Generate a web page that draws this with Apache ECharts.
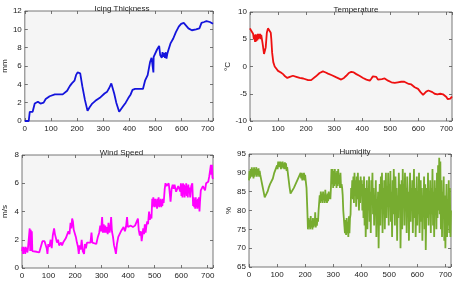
<!DOCTYPE html>
<html>
<head>
<meta charset="utf-8">
<script src="https://cdn.jsdelivr.net/npm/echarts@6/dist/echarts.min.js"></script>
<style>
html,body{margin:0;padding:0;background:#fff;}
#main{width:457px;height:288px;}
</style>
</head>
<body>
<div id="main"></div>
<script>
// panel titles and y labels
var titles = ['Icing Thickness', 'Temperature', 'Wind Speed', 'Humidity'];
var yNames = ['mm', '\u00b0C', 'm/s', '%'];
var xTicks = [0, 100, 200, 300, 400, 500, 600, 700];

// [time, value] pairs
var icing = [[0,0],[15,0],[19,1],[30,1],[34,1.1],[38,1.9],[42,2],[50,2.1],[56,2.1],[60,1.9],[66,1.9],[72,2],[80,2.4],[86,2.6],[95,2.7],[102,2.8],[115,2.9],[130,2.9],[145,2.9],[152,2.8],[162,3.3],[172,3.8],[180,4.1],[190,4.4],[196,5],[202,5.3],[208,5.5],[212,5.2],[220,3.8],[230,2.3],[240,1.1],[248,1.5],[258,1.9],[270,2.2],[290,2.6],[305,3],[315,3.2],[323,3.6],[331,4.1],[336,3.9],[342,3],[350,2],[361,1],[368,1],[376,1.6],[386,2],[396,2.5],[405,2.9],[412,3.4],[422,3.5],[440,3.5],[452,3.5],[460,4.4],[470,5],[479,6.4],[485,6.9],[490,7],[492,5.3],[493,7],[498,7.2],[506,7.8],[514,8.2],[518,7.2],[521,7.4],[524,6.9],[527,7.5],[530,7],[533,7.4],[536,6.9],[539,7.5],[542,6.8],[545,7.3],[548,7.6],[558,8.5],[568,9],[578,9.7],[589,10.3],[598,10.6],[608,10.7],[614,10.6],[626,10.1],[639,9.9],[655,10],[668,10.1],[676,10.7],[686,10.8],[695,10.9],[708,10.8],[720,10.6]];

var temperature = [[0,7],[5,6.5],[11,6],[14,5],[16,5.8],[18,4.5],[20,5.9],[22,4.6],[24,5.8],[26,4.8],[28,6],[30,5],[32,6],[34,5.2],[36,6],[38,5],[40,5.8],[45,4.2],[50,2.3],[53,2.2],[56,3.5],[60,6.2],[64,7],[70,6.8],[74,6.2],[76,5],[79,2.5],[83,0.8],[88,0],[100,-0.8],[110,-1.1],[118,-1.4],[125,-1.8],[133,-2.1],[142,-1.9],[153,-1.7],[165,-1.9],[177,-2.1],[190,-2.2],[207,-2.5],[218,-2.5],[225,-2.3],[235,-1.8],[248,-1.2],[260,-0.9],[270,-1.1],[278,-1.3],[292,-1.6],[308,-2],[325,-2.4],[335,-2.1],[343,-1.7],[352,-1.2],[361,-1],[370,-1.1],[379,-1.4],[390,-1.7],[403,-2.1],[415,-2.4],[427,-2.6],[433,-2.2],[438,-1.8],[445,-1.8],[450,-1.9],[456,-2.4],[462,-2.5],[470,-2.3],[480,-2.2],[486,-2.4],[492,-2.6],[504,-2.9],[516,-3],[527,-2.9],[539,-2.8],[550,-2.8],[557,-2.9],[566,-3.2],[575,-3.3],[587,-3.8],[599,-4.1],[608,-4.7],[617,-5.2],[623,-5],[628,-4.6],[636,-4.4],[643,-4.2],[650,-4.7],[658,-5],[668,-5.1],[678,-5],[688,-5.1],[695,-5.4],[700,-5.6],[705,-6],[709,-6.2],[714,-5.9],[720,-5.5]];

var windSpeed = [[0,1.2],[2,1.5],[4,1],[6,1.5],[8,1.1],[10,1.4],[12,1],[14,1.5],[16,1.2],[18,1.4],[20,1.1],[22,1.3],[25,1.2],[27,1.3],[29,2.8],[31,1.2],[33,2.7],[35,1.2],[37,2.6],[39,1.2],[45,1.2],[55,1.15],[65,1.1],[72,1.1],[77,1.9],[81,1.8],[85,1.9],[90,1.9],[93,1.4],[96,1],[99,1.7],[103,1.5],[108,2],[112,1.4],[116,2.3],[121,2.8],[124,2.4],[128,2.1],[132,1.8],[136,2],[140,1.6],[143,1.5],[147,1.8],[151,1.6],[155,1.8],[160,1.7],[165,2.1],[170,2.2],[175,2.6],[179,2.4],[183,3.2],[186,2.8],[189,3.5],[192,3.3],[195,2.7],[199,2.6],[203,2.2],[207,1.8],[211,1.5],[214,1],[217,1.6],[221,1.3],[225,2],[229,1.2],[234,1],[237,1.7],[241,1.4],[245,1.8],[252,1.8],[258,1.8],[262,2.5],[265,1.8],[272,1.8],[280,1.7],[286,2.2],[291,2.5],[295,3],[298,2.6],[302,3.6],[305,2.5],[308,3.1],[311,2.5],[314,3],[317,2.5],[320,2.9],[323,2.4],[326,3.2],[330,2.5],[333,2.8],[336,3.6],[339,2.6],[343,2.2],[347,1.6],[351,1.3],[354,1],[358,1.7],[363,2.2],[368,2.4],[373,2.6],[378,2.5],[383,2.9],[388,2.6],[392,2.9],[396,3.6],[399,2.9],[404,2.8],[410,3],[418,2.9],[426,3],[433,3],[437,3.5],[440,2.7],[444,2.3],[448,2.6],[451,1.9],[454,1.8],[457,2.8],[460,2.4],[463,3.1],[466,2.5],[469,3],[472,3.3],[475,3.1],[479,4],[482,3.4],[485,3.8],[488,3.5],[491,4.9],[493,4.3],[495,5],[497,4.4],[499,4.9],[501,4.3],[503,4.9],[505,4.4],[507,4.8],[509,4.2],[511,4.9],[513,4.4],[515,5],[517,4.3],[519,4.8],[521,4.4],[523,4.9],[525,4.3],[527,4.8],[529,4.4],[531,4.9],[534,4.6],[538,5.6],[541,6],[545,5.8],[549,5.9],[553,6],[556,5.5],[560,4.7],[564,5.6],[568,5.9],[572,5.6],[575,5.9],[578,6],[581,5.4],[585,5.3],[589,5.8],[593,5.9],[597,5.4],[599,6],[601,5.1],[603,5.9],[605,5],[607,6],[609,5.2],[611,5.9],[613,5],[615,5.8],[617,5.2],[619,6],[621,5.1],[623,5.8],[625,5],[627,5.9],[629,5.3],[631,5.7],[634,5],[638,5.8],[642,6],[645,4.4],[647,5],[649,4.3],[651,4.9],[653,4.2],[655,5],[657,4.3],[659,4.8],[661,4.2],[663,4.9],[665,4.3],[667,5],[669,4],[671,4.7],[674,5.5],[678,5.6],[682,5.8],[686,5.7],[690,5.5],[694,6],[698,5.9],[702,6.1],[706,6.5],[709,6.9],[712,7.3],[714,6.6],[716,7.3],[718,6.4],[720,6.3]];

var humidity = [[0,88],[2,90.5],[4,88.5],[6,91],[8,89],[10,91.5],[12,89],[14,91],[16,88.5],[18,91.5],[20,89],[22,91],[24,89.5],[26,91.5],[28,89],[30,91],[32,89.5],[34,91.2],[36,89],[38,90.5],[40,89.5],[44,88],[48,86.5],[52,85],[56,83.5],[58,83],[62,84],[66,85],[70,86],[75,87],[80,87.5],[85,88.5],[90,90],[95,91],[100,92],[102,91],[104,93],[106,91.5],[108,93],[110,91.5],[112,93],[114,91],[116,92.8],[118,91.5],[120,93],[122,91.2],[124,92.5],[126,91],[128,92.8],[130,91],[132,92.5],[134,90.5],[136,91.5],[140,89],[144,86.5],[148,84.5],[151,84],[155,85],[160,86],[166,87],[172,88],[178,89],[184,90],[186,88.5],[188,90],[190,88],[192,89.8],[194,88.2],[196,90],[198,88],[200,89.5],[202,88],[205,86],[208,80],[210,75],[212,78],[214,75.5],[216,77.5],[218,75],[220,78.5],[222,75.5],[224,77],[226,75],[228,78],[230,75.5],[232,77.5],[234,76],[236,79.5],[238,75.5],[240,78],[242,76],[244,78],[246,77],[248,80],[250,82],[252,84],[254,82],[256,85],[258,82.5],[260,84.5],[262,82],[264,85],[266,83],[268,84],[270,82],[272,85.5],[274,82.5],[276,84],[278,82],[280,84.5],[282,82.5],[284,85],[286,83],[288,84],[290,83],[292,86],[294,91],[296,87],[298,91],[300,86],[302,90.5],[304,86.5],[306,91],[308,87],[310,90],[312,86],[314,90.5],[316,86.5],[318,91],[320,87],[322,89.5],[324,86],[326,90],[328,86],[330,87],[332,86],[334,84],[336,80],[338,78],[340,76],[342,74],[344,77.5],[346,73.5],[348,78],[350,74],[352,77],[354,73],[356,78.5],[358,74],[360,78],[362,79],[364,86],[366,84],[368,88],[370,83],[372,89],[374,82],[376,90],[378,84],[380,88],[382,81],[384,89],[386,83],[388,90],[390,85],[392,80],[394,88],[396,82],[398,89],[400,84],[402,88],[404,80],[406,87],[408,78],[410,89],[412,76],[414,86],[416,73],[418,82],[420,88],[422,75],[424,86],[426,80],[428,89],[430,77],[432,85],[434,74],[436,88],[438,83],[440,90],[442,79],[444,86],[446,76],[448,84],[450,81],[452,88],[454,73],[456,83],[458,79],[460,85],[462,70],[464,80],[466,87],[468,76],[470,89],[472,82],[474,90],[476,74],[478,86],[480,79],[482,88],[484,75],[486,84],[488,90],[490,78],[492,86],[494,81],[496,90],[498,76],[500,87],[502,83],[504,90.5],[506,77],[508,85],[510,73],[512,88],[514,79],[516,91],[518,84],[520,76],[522,89],[524,80],[526,86],[528,72],[530,84],[532,78],[534,90],[536,82],[538,87],[540,70],[542,80],[544,88],[546,75],[548,91],[550,83],[552,87],[554,76],[556,90],[558,81],[560,86],[562,74],[564,89],[566,79],[568,85],[570,72],[572,83],[574,90],[576,77],[578,86],[580,80],[582,88],[584,74],[586,84],[588,91],[590,78],[592,86],[594,73],[596,82],[598,89],[600,76],[602,85],[604,79],[606,90],[608,74],[610,83],[612,88],[614,77],[616,86],[618,72],[620,84],[622,80],[624,89],[626,75],[628,87],[630,69.5],[632,80],[634,86],[636,78],[638,90],[640,76],[642,84],[644,81],[646,88],[648,74],[650,86],[652,79],[654,91],[656,76],[658,85],[660,73],[662,88],[664,80],[666,86],[668,75],[670,90],[672,78],[674,92],[676,80],[678,94],[680,79],[682,93],[684,75],[686,88],[688,73],[690,85],[692,78],[694,89],[696,72],[698,84],[700,70],[702,80],[704,87],[706,73],[708,83],[710,76],[712,88],[714,74],[716,86],[718,73],[720,80]];

var seriesData = [icing, temperature, windSpeed, humidity];
var colors = ['#1414dc', '#ee1010', '#ff00ff', '#77ac30'];
var yRanges = [[0, 12, 2], [-10, 10, 5], [0, 8, 2], [65, 95, 5]];

var grids = [
    {left: 21, top: 11, width: 192, height: 110},
    {left: 250, top: 12, width: 202, height: 109},
    {left: 20, top: 155, width: 193, height: 113},
    {left: 249, top: 154, width: 202, height: 113}
];
var nameGaps = [14, 17, 13, 14];

var font = 'Liberation Sans, Arial, sans-serif';
var option = {
    animation: false,
    backgroundColor: '#fff',
    title: [], grid: [], xAxis: [], yAxis: [], series: []
};

for (var i = 0; i < 4; i++) {
    var g = grids[i];
    option.grid.push({
        left: g.left, top: g.top, width: g.width, height: g.height,
        show: true, backgroundColor: '#f5f5f5', borderColor: '#555', borderWidth: 0.8
    });
    option.title.push({
        text: titles[i], left: g.left + g.width / 2, top: g.top - 11, textAlign: 'center',
        textStyle: {fontSize: 8, fontWeight: 'normal', color: '#222', fontFamily: font}
    });
    var tick = {show: true, inside: true, length: 3, lineStyle: {color: '#555', width: 0.8}};
    var noLine = {show: false, onZero: false};
    // bottom x axis with labels
    option.xAxis.push({
        type: 'value', gridIndex: i, position: 'bottom', min: 0, max: 720, interval: 100,
        axisLine: noLine, splitLine: {show: false}, axisTick: tick,
        axisLabel: {fontSize: 8, color: '#222', fontFamily: font, margin: 4,
            formatter: function (v) { return xTicks.indexOf(v) >= 0 ? String(v) : ''; }}
    });
    // top x axis, ticks only
    option.xAxis.push({
        type: 'value', gridIndex: i, position: 'top', min: 0, max: 720, interval: 100,
        axisLine: noLine, splitLine: {show: false}, axisTick: tick, axisLabel: {show: false}
    });
    var r = yRanges[i];
    option.yAxis.push({
        type: 'value', gridIndex: i, position: 'left', min: r[0], max: r[1], interval: r[2],
        name: yNames[i], nameLocation: 'middle', nameGap: nameGaps[i],
        nameTextStyle: {fontSize: 8, color: '#222', fontFamily: font},
        axisLine: noLine, splitLine: {show: false}, axisTick: tick,
        axisLabel: {fontSize: 8, color: '#222', fontFamily: font, margin: 3}
    });
    option.yAxis.push({
        type: 'value', gridIndex: i, position: 'right', min: r[0], max: r[1], interval: r[2],
        axisLine: noLine, splitLine: {show: false}, axisTick: tick, axisLabel: {show: false}
    });
    option.series.push({
        type: 'line', xAxisIndex: i * 2, yAxisIndex: i * 2, data: seriesData[i],
        showSymbol: false, symbol: 'none', lineStyle: {color: colors[i], width: 1.8}
    });
}

var chart = echarts.init(document.getElementById('main'));
chart.setOption(option);
</script>
</body>
</html>
